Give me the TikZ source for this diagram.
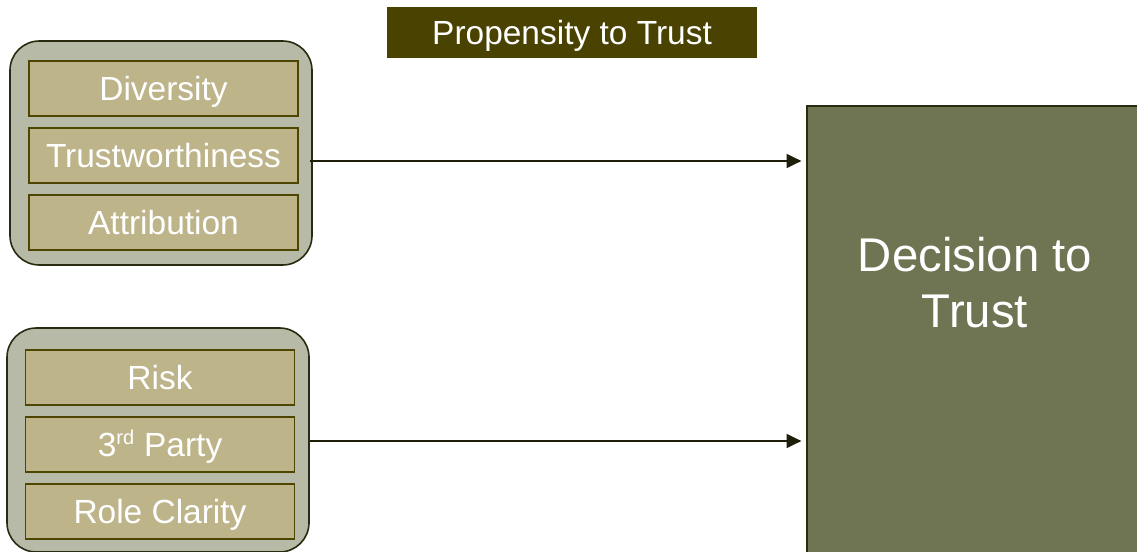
\documentclass[tikz,border=0pt]{standalone}
\usepackage{fontspec}
\setmainfont{Liberation Sans}
\usetikzlibrary{arrows.meta}
\definecolor{titlefill}{HTML}{4A4200}
\definecolor{groupfill}{HTML}{B8BAA8}
\definecolor{groupline}{HTML}{2A2A10}
\definecolor{itemfill}{HTML}{BDB48A}
\definecolor{itemline}{HTML}{4D4500}
\definecolor{decfill}{HTML}{6F7452}
\definecolor{decline}{HTML}{2B2B12}
\definecolor{arrowcol}{HTML}{1E1E0A}
\tikzset{
  groupbox/.style={draw=groupline, fill=groupfill, line width=1.2pt, rounded corners=22pt, minimum width=226.5pt, minimum height=168pt, inner sep=0pt},
  itembox/.style={draw=itemline, fill=itemfill, line width=1.2pt, minimum width=201.75pt, minimum height=41.25pt, inner sep=0pt, text height=17.8pt, text depth=0pt, text=white, font=\fontsize{25.1}{28}\selectfont},
  titlebox/.style={fill=titlefill, minimum width=277.5pt, minimum height=38.25pt, inner sep=0pt, text height=17.8pt, text depth=0pt, text=white, font=\fontsize{25.1}{28}\selectfont},
  decbox/.style={draw=decline, fill=decfill, line width=1.5pt, inner sep=0pt},
  dectext/.style={text=white, align=center, font=\fontsize{35.5}{42}\selectfont, inner sep=0pt},
  arr/.style={draw=arrowcol, line width=1.1pt, -{Triangle[length=11pt,width=10.5pt]}, shorten >=3.5pt}
}
\begin{document}
\begin{tikzpicture}[x=0.75pt, y=-0.75pt]
\path[use as bounding box, clip] (0,0) rectangle (1137,552);
% title
\node[titlebox] (title) at (572,32.5) {Propensity to Trust};
% top group
\node[groupbox] (g1) at (161,153) {};
\node[itembox] (div) at (163.5,88.5) {Diversity};
\node[itembox] (tw) at (163.5,155.5) {Trustworthiness};
\node[itembox] (att) at (163.5,222.5) {Attribution};
% bottom group
\node[groupbox] (g2) at (158,440) {};
\node[itembox] (risk) at (160,377.5) {Risk};
\node[itembox] (third) at (160,444.5) {3\textsuperscript{\fontsize{15}{15}\selectfont rd} Party};
\node[itembox] (role) at (160,511.5) {Role Clarity};
% decision box
\node[decbox, minimum width=270pt, minimum height=360pt, anchor=north west] (dec) at (806,105) {};
\node[dectext] (dect) at (975,283) {Decision to\\Trust};
% arrows
\coordinate (s1) at (310,161);
\coordinate (s2) at (310,441);
\draw[arr] (s1) -- (s1 -| dec.west);
\draw[arr] (s2) -- (s2 -| dec.west);
\end{tikzpicture}
\end{document}
